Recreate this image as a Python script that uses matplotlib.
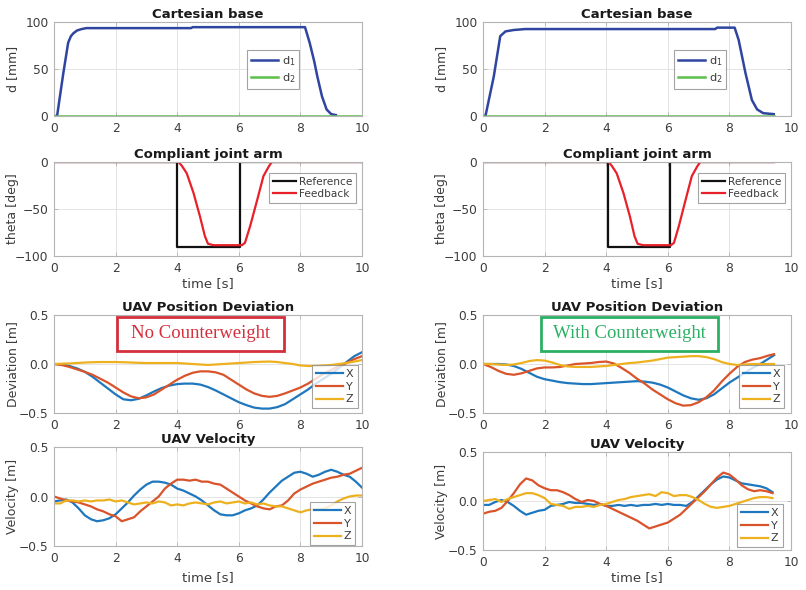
import matplotlib
matplotlib.use("Agg")
import matplotlib.pyplot as plt
from matplotlib.patches import Rectangle

# ---------------- data ----------------
# Cartesian base
cb_t_L = [0.05, 0.1, 0.3, 0.46, 0.55, 0.63, 0.75, 0.9, 1.05, 4.45, 4.5, 8.15, 8.3, 8.45, 8.55, 8.7, 8.85, 9.0, 9.15]
cb_d1_L = [0, 0, 45, 78, 85, 88, 91, 92.5, 93.5, 93.5, 94.5, 94.5, 78, 58, 42, 21, 7, 2, 1]
cb_t2_L = [0, 10]
cb_d2_L = [0, 0]

cb_t_R = [0.05, 0.08, 0.35, 0.56, 0.73, 1.0, 1.37, 7.54, 7.6, 8.17, 8.3, 8.52, 8.73, 8.9, 9.1, 9.44]
cb_d1_R = [0, 0, 42, 85, 90, 91.5, 92.5, 92.5, 94, 94, 81, 46, 17, 7, 3, 2]
cb_t2_R = [0, 9.45]
cb_d2_R = [0, 0]

# Compliant joint arm
ref_t_L = [0, 4.0, 4.0, 6.05, 6.05, 10]
ref_v_L = [0, 0, -90, -90, 0, 0]
fb_t_L = [0, 4.04, 4.15, 4.31, 4.53, 4.74, 4.9, 5.0, 5.18, 6.1, 6.2, 6.37, 6.6, 6.8, 6.97, 7.07, 10]
fb_v_L = [0, 0, -4, -12, -33, -58, -79, -87, -88.5, -88.5, -86, -68, -40, -15, -5, 0, 0]

ref_t_R = [0, 4.05, 4.05, 6.06, 6.06, 9.45]
ref_v_R = [0, 0, -90, -90, 0, 0]
fb_t_R = [0, 4.08, 4.18, 4.34, 4.56, 4.77, 4.92, 5.02, 5.2, 6.1, 6.2, 6.36, 6.58, 6.78, 6.95, 7.05, 9.45]
fb_v_R = [0, 0, -4, -12, -33, -58, -79, -87, -88.5, -88.5, -86, -68, -40, -15, -5, 0, 0]

# UAV position deviation (left: no counterweight)
pd_t_L = [0, 0.25, 0.5, 0.75, 1.0, 1.25, 1.5, 1.75, 2.0, 2.25, 2.5, 2.75, 3.0, 3.25, 3.5, 3.75,
          4.0, 4.25, 4.5, 4.75, 5.0, 5.25, 5.5, 5.75, 6.0, 6.25, 6.5, 6.75, 7.0, 7.25, 7.5, 7.75,
          8.0, 8.25, 8.5, 8.75, 9.0, 9.25, 9.5, 9.75, 10.0]
pd_x_L = [0, -0.005, -0.02, -0.045, -0.08, -0.13, -0.19, -0.25, -0.31, -0.36, -0.37, -0.355, -0.32, -0.28, -0.245, -0.22,
          -0.205, -0.2, -0.2, -0.21, -0.235, -0.27, -0.31, -0.35, -0.39, -0.42, -0.445, -0.455, -0.455, -0.44, -0.41, -0.36,
          -0.31, -0.26, -0.2, -0.15, -0.1, -0.04, 0.02, 0.08, 0.12]
pd_y_L = [0, -0.01, -0.03, -0.055, -0.08, -0.11, -0.15, -0.19, -0.24, -0.29, -0.33, -0.35, -0.34, -0.31, -0.26, -0.21,
          -0.16, -0.12, -0.09, -0.075, -0.075, -0.085, -0.11, -0.16, -0.21, -0.26, -0.3, -0.325, -0.335, -0.325, -0.3, -0.27,
          -0.24, -0.2, -0.15, -0.1, -0.06, -0.02, 0.01, 0.05, 0.08]
pd_z_L = [0, 0.003, 0.006, 0.01, 0.015, 0.018, 0.02, 0.02, 0.02, 0.018, 0.015, 0.012, 0.01, 0.01, 0.01, 0.01,
          0.01, 0.005, 0.0, -0.005, -0.01, -0.005, 0.0, 0.005, 0.01, 0.015, 0.02, 0.023, 0.025, 0.02, 0.01, 0.0,
          -0.015, -0.02, -0.02, -0.015, -0.01, 0.0, 0.01, 0.025, 0.04]

# UAV position deviation (right: with counterweight)
pd_t_R = [0, 0.25, 0.5, 0.75, 1.0, 1.25, 1.5, 1.75, 2.0, 2.25, 2.5, 2.75, 3.0, 3.25, 3.5, 3.75,
          4.0, 4.25, 4.5, 4.75, 5.0, 5.25, 5.5, 5.75, 6.0, 6.25, 6.5, 6.75, 7.0, 7.25, 7.5, 7.75,
          8.0, 8.25, 8.5, 8.75, 9.0, 9.25, 9.45]
pd_x_R = [0, 0, 0, -0.005, -0.02, -0.05, -0.09, -0.13, -0.155, -0.17, -0.185, -0.195, -0.2, -0.205, -0.205, -0.2,
          -0.195, -0.19, -0.185, -0.18, -0.175, -0.18, -0.19, -0.21, -0.24, -0.28, -0.32, -0.35, -0.365, -0.35, -0.31, -0.25,
          -0.19, -0.14, -0.09, -0.04, 0.0, 0.05, 0.09]
pd_y_R = [0, -0.03, -0.07, -0.1, -0.11, -0.095, -0.07, -0.045, -0.035, -0.035, -0.03, -0.015, 0.0, 0.005, 0.01, 0.02,
          0.025, 0.005, -0.04, -0.09, -0.15, -0.2, -0.26, -0.31, -0.36, -0.4, -0.425, -0.42, -0.39, -0.34, -0.27, -0.18,
          -0.1, -0.03, 0.02, 0.045, 0.06, 0.085, 0.1]
pd_z_R = [0, 0.0, -0.005, -0.01, -0.005, 0.01, 0.03, 0.04, 0.035, 0.015, -0.01, -0.025, -0.03, -0.03, -0.03, -0.025,
          -0.02, -0.01, 0.0, 0.01, 0.015, 0.025, 0.035, 0.05, 0.065, 0.07, 0.075, 0.08, 0.08, 0.07, 0.05, 0.02,
          0.0, -0.01, -0.005, 0.0, 0.0, 0.0, 0.0]

# UAV velocity (left)
v_t_L = [0, 0.2, 0.4, 0.6, 0.8, 1.0, 1.2, 1.4, 1.6, 1.8, 2.0, 2.2, 2.4, 2.6, 2.8, 3.0, 3.2, 3.4, 3.6, 3.8,
         4.0, 4.2, 4.4, 4.6, 4.8, 5.0, 5.2, 5.4, 5.6, 5.8, 6.0, 6.2, 6.4, 6.6, 6.8, 7.0, 7.2, 7.4, 7.6, 7.8,
         8.0, 8.2, 8.4, 8.6, 8.8, 9.0, 9.2, 9.4, 9.6, 9.8, 10.0]
v_x_L = [-0.05, -0.04, -0.03, -0.06, -0.12, -0.19, -0.23, -0.25, -0.24, -0.22, -0.18, -0.12, -0.06, 0.01, 0.07, 0.12, 0.15, 0.15, 0.14, 0.12,
         0.08, 0.06, 0.03, 0.0, -0.04, -0.09, -0.14, -0.18, -0.19, -0.19, -0.17, -0.14, -0.12, -0.09, -0.03, 0.04, 0.1, 0.16, 0.2, 0.24,
         0.25, 0.23, 0.2, 0.22, 0.25, 0.27, 0.25, 0.22, 0.2, 0.15, 0.09]
v_y_L = [0.0, -0.02, -0.04, -0.05, -0.06, -0.08, -0.1, -0.13, -0.15, -0.18, -0.2, -0.25, -0.23, -0.21, -0.15, -0.1, -0.05, 0.0, 0.08, 0.13,
         0.17, 0.17, 0.16, 0.17, 0.15, 0.15, 0.13, 0.12, 0.08, 0.04, 0.0, -0.04, -0.07, -0.1, -0.12, -0.13, -0.1, -0.09, -0.04, 0.03,
         0.07, 0.1, 0.13, 0.15, 0.17, 0.19, 0.2, 0.22, 0.23, 0.26, 0.29]
v_z_L = [-0.07, -0.07, -0.04, -0.04, -0.05, -0.04, -0.05, -0.04, -0.04, -0.03, -0.05, -0.04, -0.06, -0.08, -0.07, -0.06, -0.07, -0.05, -0.06, -0.09,
         -0.08, -0.09, -0.07, -0.06, -0.07, -0.08, -0.06, -0.05, -0.07, -0.06, -0.05, -0.07, -0.06, -0.08, -0.07, -0.09, -0.1, -0.1, -0.12, -0.14,
         -0.16, -0.14, -0.13, -0.13, -0.12, -0.09, -0.05, -0.02, 0.0, 0.01, 0.01]

# UAV velocity (right)
v_t_R = [0, 0.2, 0.4, 0.6, 0.8, 1.0, 1.2, 1.4, 1.6, 1.8, 2.0, 2.2, 2.4, 2.6, 2.8, 3.0, 3.2, 3.4, 3.6, 3.8,
         4.0, 4.2, 4.4, 4.6, 4.8, 5.0, 5.2, 5.4, 5.6, 5.8, 6.0, 6.2, 6.4, 6.6, 6.8, 7.0, 7.2, 7.4, 7.6, 7.8,
         8.0, 8.2, 8.4, 8.6, 8.8, 9.0, 9.2, 9.4]
v_x_R = [-0.04, -0.04, -0.01, 0.01, -0.01, -0.05, -0.1, -0.14, -0.12, -0.1, -0.09, -0.05, -0.04, -0.03, -0.01, -0.02, -0.02, -0.03, -0.04, -0.03,
         -0.05, -0.05, -0.04, -0.05, -0.04, -0.05, -0.04, -0.04, -0.03, -0.04, -0.03, -0.04, -0.04, -0.05, -0.01, 0.05, 0.11, 0.17, 0.22, 0.25,
         0.24, 0.21, 0.18, 0.17, 0.16, 0.15, 0.13, 0.09]
v_y_R = [-0.13, -0.11, -0.1, -0.07, 0.0, 0.08, 0.17, 0.23, 0.21, 0.16, 0.13, 0.11, 0.11, 0.09, 0.06, 0.02, -0.01, 0.01, 0.0, -0.03,
         -0.05, -0.08, -0.11, -0.14, -0.17, -0.2, -0.24, -0.28, -0.26, -0.24, -0.22, -0.18, -0.14, -0.08, -0.02, 0.04, 0.1, 0.17, 0.24, 0.29,
         0.27, 0.22, 0.16, 0.12, 0.1, 0.11, 0.1, 0.08]
v_z_R = [0.0, 0.01, 0.02, -0.01, 0.02, 0.04, 0.06, 0.08, 0.08, 0.06, 0.03, -0.03, -0.04, -0.05, -0.08, -0.06, -0.06, -0.05, -0.06, -0.04,
         -0.03, -0.01, 0.01, 0.02, 0.04, 0.05, 0.06, 0.07, 0.05, 0.09, 0.08, 0.05, 0.06, 0.06, 0.04, 0.01, -0.03, -0.06, -0.07, -0.06,
         -0.05, -0.03, -0.01, 0.01, 0.03, 0.04, 0.04, 0.03]

# ---------------- style ----------------
TXT = '#3c3c3c'
SPINE = '#b4b4b4'
GRID = '#e4e4e4'
C_D1 = '#2f45a0'
C_D2 = '#5cbf4a'
C_REF = '#111111'
C_FB = '#e8202a'
C_X = '#1f77bd'
C_Y = '#d9542a'
C_Z = '#edb120'

plt.rcParams['font.family'] = ['DejaVu Sans']

fig = plt.figure(figsize=(8.06, 5.90), dpi=100)

W = 308 / 806
colL = 54 / 806
colR = 483 / 806


def mk(left, top_px, bot_px):
    return fig.add_axes([left, 1 - bot_px / 590, W, (bot_px - top_px) / 590])


def style(ax, ylim, yticks, title, ylabel, xlabel=None, xpad=2):
    ax.set_xlim(0, 10)
    ax.set_ylim(*ylim)
    ax.set_xticks([0, 2, 4, 6, 8, 10])
    ax.set_yticks(yticks)
    ax.grid(True, color=GRID, linewidth=0.7)
    ax.set_axisbelow(True)
    for s in ax.spines.values():
        s.set_color(SPINE)
        s.set_linewidth(0.8)
    ax.tick_params(direction='in', length=3, width=0.6, color=SPINE, labelcolor=TXT,
                   labelsize=8.8, top=True, right=True, pad=4)
    ax.set_title(title, fontsize=9.5, fontweight='bold', color='#1a1a1a', pad=3)
    ax.set_ylabel(ylabel, fontsize=9, color=TXT)
    ax.yaxis.set_label_coords(-0.115, 0.5)
    if xlabel:
        ax.set_xlabel(xlabel, fontsize=9.5, color=TXT, labelpad=xpad)


def leg(ax, anchor, fs=8, hl=2.6):
    lg = ax.legend(loc='upper left', bbox_to_anchor=anchor, fontsize=fs, frameon=True,
                   fancybox=False, handlelength=hl, handletextpad=0.3, borderpad=0.35,
                   labelspacing=0.25, borderaxespad=0)
    lg.get_frame().set_edgecolor('#8c8c8c')
    lg.get_frame().set_linewidth(0.8)
    for t in lg.get_texts():
        t.set_color(TXT)
    return lg


# ---- row 1: Cartesian base ----
for left, t1, d1, t2, d2, lx in [(colL, cb_t_L, cb_d1_L, cb_t2_L, cb_d2_L, 0.627),
                                 (colR, cb_t_R, cb_d1_R, cb_t2_R, cb_d2_R, 0.620)]:
    ax = mk(left, 22, 116)
    ax.plot(t1, d1, color=C_D1, lw=1.8, label='d$_1$')
    ax.plot(t2, d2, color=C_D2, lw=1.8, label='d$_2$')
    style(ax, (0, 100), [0, 50, 100], 'Cartesian base', 'd [mm]')
    leg(ax, (lx, 0.70), fs=8.2, hl=2.4)

# ---- row 2: Compliant joint arm ----
for left, rt, rv, ft, fv in [(colL, ref_t_L, ref_v_L, fb_t_L, fb_v_L),
                             (colR, ref_t_R, ref_v_R, fb_t_R, fb_v_R)]:
    ax = mk(left, 162, 256)
    ax.plot(rt, rv, color=C_REF, lw=1.6, label='Reference')
    ax.plot(ft, fv, color=C_FB, lw=1.6, label='Feedback')
    style(ax, (-100, 0), [-100, -50, 0], 'Compliant joint arm', 'theta [deg]', 'time [s]')
    leg(ax, (0.698, 0.885), fs=7.6, hl=2.2)

# ---- row 3: UAV position deviation ----
for left, t, x, y, z, lx, box, txt, col in [
        (colL, pd_t_L, pd_x_L, pd_y_L, pd_z_L, 0.838, (0.204, 0.633, 0.544, 0.347), 'No Counterweight', '#d42f3c'),
        (colR, pd_t_R, pd_x_R, pd_y_R, pd_z_R, 0.831, (0.188, 0.633, 0.575, 0.347), 'With Counterweight', '#2bb064')]:
    ax = mk(left, 315, 413)
    ax.plot(t, x, color=C_X, lw=1.6, label='X')
    ax.plot(t, y, color=C_Y, lw=1.6, label='Y')
    ax.plot(t, z, color=C_Z, lw=1.6, label='Z')
    style(ax, (-0.5, 0.5), [-0.5, 0, 0.5], 'UAV Position Deviation', 'Deviation [m]')
    leg(ax, (lx, 0.49), fs=8, hl=2.4)
    bx, by, bw, bh = box
    ax.add_patch(Rectangle((bx, by), bw, bh, transform=ax.transAxes, facecolor='white',
                           edgecolor=col, linewidth=2.0, zorder=5, clip_on=False))
    ax.text(bx + bw / 2, by + bh / 2, txt, transform=ax.transAxes, ha='center', va='center',
            fontsize=13.5, color=col, family=['Liberation Serif'], zorder=6)

# ---- row 4: UAV velocity ----
for left, top, bot, t, x, y, z, lx, ly, xp in [
        (colL, 447, 546, v_t_L, v_x_L, v_y_L, v_z_L, 0.831, 0.444, 5),
        (colR, 452, 550, v_t_R, v_x_R, v_y_R, v_z_R, 0.825, 0.469, 2)]:
    ax = mk(left, top, bot)
    ax.plot(t, x, color=C_X, lw=1.6, label='X')
    ax.plot(t, y, color=C_Y, lw=1.6, label='Y')
    ax.plot(t, z, color=C_Z, lw=1.6, label='Z')
    style(ax, (-0.5, 0.5), [-0.5, 0, 0.5], 'UAV Velocity', 'Velocity [m]', 'time [s]', xpad=xp)
    leg(ax, (lx, ly), fs=8, hl=2.4)

fig.savefig('out.png', dpi=100, facecolor='white')
